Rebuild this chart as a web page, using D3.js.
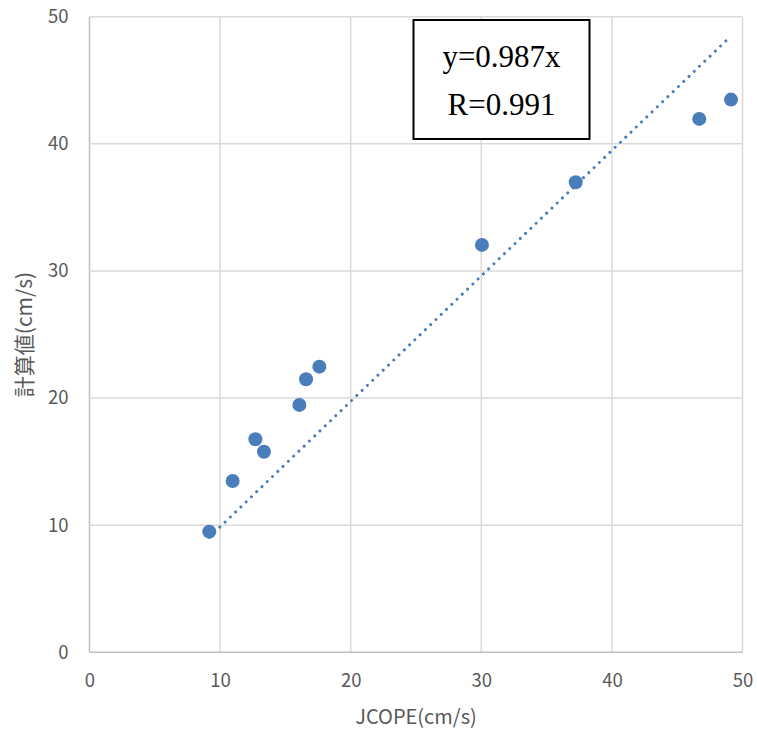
<!DOCTYPE html>
<html><head><meta charset="utf-8">
<script src="https://cdn.jsdelivr.net/npm/d3@7"></script>
<style>body{margin:0;background:#fff}</style>
</head><body>
<script>
const xValues = [9.17, 10.96, 12.70, 13.36, 16.07, 16.58, 17.60, 30.05, 37.23, 46.69, 49.12];
const yValues = [9.49, 13.48, 16.76, 15.78, 19.46, 21.48, 22.47, 32.05, 36.98, 41.96, 43.48];
const xTicks = [0, 10, 20, 30, 40, 50];
const yTicks = [0, 10, 20, 30, 40, 50];
const slope = 0.987;
const eqLabels = ["y=0.987x", "R=0.991"];
const xTitle = "JCOPE(cm/s)";
const yTitle = "計算値(cm/s)";

const W = 757, H = 732;
const svg = d3.select("body").append("svg").attr("width", W).attr("height", H);
const x = d3.scaleLinear().domain([0, 50]).range([89.5, 742.5]);
const y = d3.scaleLinear().domain([0, 50]).range([652.3, 16.7]);
const font = "'Noto Sans CJK JP','Noto Sans',sans-serif";

// gridlines
svg.append("g").selectAll("line.v").data(xTicks).join("line")
  .attr("x1", d => x(d)).attr("x2", d => x(d)).attr("y1", y(0)).attr("y2", y(50))
  .attr("stroke", d => d === 0 ? "#bfbfbf" : "#d9d9d9").attr("stroke-width", 1.5);
svg.append("g").selectAll("line.h").data(yTicks).join("line")
  .attr("y1", d => y(d)).attr("y2", d => y(d)).attr("x1", x(0)).attr("x2", x(50))
  .attr("stroke", d => d === 0 ? "#bfbfbf" : "#d9d9d9").attr("stroke-width", 1.5);

// axes labels via d3 axis
const xAxis = svg.append("g").attr("transform", `translate(0,${y(0)})`)
  .call(d3.axisBottom(x).tickValues(xTicks).tickSize(0).tickPadding(22));
const yAxis = svg.append("g").attr("transform", `translate(${x(0)},0)`)
  .call(d3.axisLeft(y).tickValues(yTicks).tickSize(0).tickPadding(21));
[xAxis, yAxis].forEach(a => {
  a.select(".domain").remove();
  a.selectAll("text").attr("fill", "#595959").attr("font-size", 18.5).attr("font-family", font);
});

// axis titles
svg.append("text").attr("x", (x(0) + x(50)) / 2).attr("y", 724).attr("text-anchor", "middle")
  .attr("fill", "#595959").attr("font-size", 20).attr("font-family", font).text(xTitle);
svg.append("text").attr("transform", `translate(32,${(y(0) + y(50)) / 2}) rotate(-90)`)
  .attr("text-anchor", "middle").attr("fill", "#595959").attr("font-size", 21)
  .attr("font-family", font).text(yTitle);

// trendline
const xMin = d3.min(xValues), xMax = d3.max(xValues);
svg.append("line").attr("x1", x(xMin)).attr("y1", y(slope * xMin))
  .attr("x2", x(xMax)).attr("y2", y(slope * xMax))
  .attr("stroke", "#4a7ebb").attr("stroke-width", 3).attr("stroke-linecap", "round")
  .attr("stroke-dasharray", "0.01 7.3");

// points
svg.append("g").selectAll("circle").data(xValues).join("circle")
  .attr("cx", d => x(d)).attr("cy", (d, i) => y(yValues[i])).attr("r", 7)
  .attr("fill", "#4a7ebb");

// equation box
svg.append("rect").attr("x", 413.5).attr("y", 20).attr("width", 176).attr("height", 119)
  .attr("fill", "#fff").attr("stroke", "#000").attr("stroke-width", 2);
svg.append("g").selectAll("text").data(eqLabels).join("text")
  .attr("x", 501.5).attr("y", (d, i) => 67 + i * 48).attr("text-anchor", "middle")
  .attr("font-family", "'Liberation Serif','Times New Roman',serif").attr("font-size", 31)
  .attr("fill", "#000").text(d => d);
</script>
</body></html>
